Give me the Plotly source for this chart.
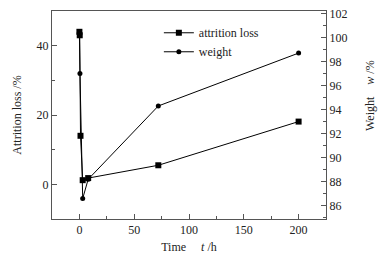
import plotly.graph_objects as go

# Data
time_loss = [0, 0.3, 1, 3, 8, 72, 200]
attrition_loss = [44, 43, 14, 1.2, 1.8, 5.5, 18.1]

time_weight = [0, 0.5, 3, 8, 72, 200]
weight = [100.3, 97.0, 86.6, 88.2, 94.3, 98.7]

FONT = "Liberation Serif"
W, H = 383, 259
L, R, T, B = 52, 57, 11, 40

fig = go.Figure()
fig.add_trace(go.Scatter(
    x=time_loss, y=attrition_loss, name="attrition loss", mode="lines+markers",
    line=dict(color="black", width=1),
    marker=dict(symbol="square", size=6, color="black"),
    yaxis="y"))
fig.add_trace(go.Scatter(
    x=time_weight, y=weight, name="weight", mode="lines+markers",
    line=dict(color="black", width=1),
    marker=dict(symbol="circle", size=5, color="black"),
    yaxis="y2"))

axis_common = dict(showgrid=False, zeroline=False, showline=True, linecolor="#555",
                   linewidth=1, ticks="inside", ticklen=5, tickcolor="#555",
                   automargin=False,
                   tickfont=dict(family=FONT, size=12, color="#222"))

fig.update_layout(
    width=W, height=H,
    margin=dict(l=L, r=R, t=T, b=B, autoexpand=False),
    paper_bgcolor="white", plot_bgcolor="white",
    font=dict(family=FONT, size=12, color="#222"),
    showlegend=True,
    legend=dict(x=0.39, y=0.965, xanchor="left", yanchor="top",
                bgcolor="rgba(0,0,0,0)", font=dict(family=FONT, size=12),
                tracegroupgap=0, itemwidth=30),
    xaxis=dict(range=[-25, 225], dtick=50, tick0=0, mirror=True,
               minor=dict(dtick=25, ticklen=3, ticks="inside", tickcolor="#555"),
               title=dict(text="Time\u00a0\u00a0\u00a0\u00a0\u00a0<i>t</i> /h", standoff=6,
                          font=dict(family=FONT, size=12)),
               **axis_common),
    yaxis=dict(range=[-10, 50], dtick=20, tick0=0,
               minor=dict(dtick=10, ticklen=3, ticks="inside", tickcolor="#555"),
               title=dict(text="Attrition loss /%", standoff=12,
                          font=dict(family=FONT, size=12)),
               **axis_common),
    yaxis2=dict(range=[84.9, 102.2], dtick=2, tick0=86, overlaying="y", side="right",
                minor=dict(dtick=1, ticklen=3, ticks="inside", tickcolor="#555"),
                **axis_common),
)

fig.add_annotation(
    text="Weight\u00a0\u00a0\u00a0\u00a0<i>w</i> /%", textangle=-90,
    xref="paper", yref="paper", x=(370 - L) / (W - L - R),
    y=1 - (96 - T) / (H - T - B),
    showarrow=False, font=dict(family=FONT, size=12, color="#222"),
    xanchor="center", yanchor="middle")

fig.write_html("out.html", config={"displayModeBar": False},
               post_script="document.body.style.margin='0';document.body.style.overflow='hidden';")
